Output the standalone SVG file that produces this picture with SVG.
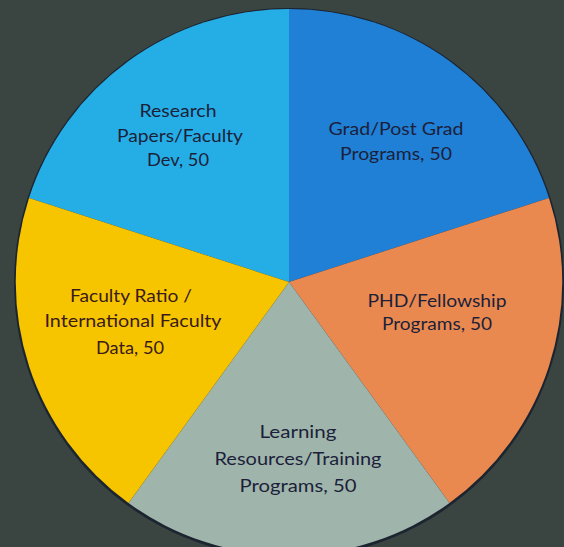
<svg xmlns="http://www.w3.org/2000/svg" width="564" height="547" viewBox="0 0 564 547">
<style>
.lbl{font-family:Lato,"Liberation Sans",sans-serif;font-size:17px;text-anchor:middle;fill:#1c1f3a}
.slice{stroke:none}
</style>
<rect width="564" height="547" fill="#3a4541"/>
<circle cx="289" cy="283" r="275" fill="#1c2430"/>
<g id="research">
<path class="slice" d="M289,282 L29,198 A273,273 0 0 1 289,9 Z" fill="#25aee6"/>
<text class="lbl" x="178" y="117" textLength="77" lengthAdjust="spacingAndGlyphs">Research</text>
<text class="lbl" x="180" y="142" textLength="126" lengthAdjust="spacingAndGlyphs">Papers/Faculty</text>
<text class="lbl" x="178" y="166" textLength="62" lengthAdjust="spacingAndGlyphs">Dev, 50</text>
</g>
<g id="grad">
<path class="slice" d="M289,282 L289,9 A273,273 0 0 1 549,198 Z" fill="#1f80d6"/>
<text class="lbl" x="396" y="135" textLength="135" lengthAdjust="spacingAndGlyphs">Grad/Post Grad</text>
<text class="lbl" x="396" y="160" textLength="112" lengthAdjust="spacingAndGlyphs">Programs, 50</text>
</g>
<g id="phd">
<path class="slice" d="M289,282 L549,198 A273,273 0 0 1 449.5,503 Z" fill="#e9894f"/>
<text class="lbl" x="437" y="307" textLength="139" lengthAdjust="spacingAndGlyphs">PHD/Fellowship</text>
<text class="lbl" x="437" y="330" textLength="110" lengthAdjust="spacingAndGlyphs">Programs, 50</text>
</g>
<g id="learning">
<path class="slice" d="M289,282 L449.5,503 A273,273 0 0 1 128.5,503 Z" fill="#9fb4aa"/>
<text class="lbl" x="298" y="438" textLength="77" lengthAdjust="spacingAndGlyphs">Learning</text>
<text class="lbl" x="298" y="465" textLength="167" lengthAdjust="spacingAndGlyphs">Resources/Training</text>
<text class="lbl" x="298" y="492" textLength="117" lengthAdjust="spacingAndGlyphs">Programs, 50</text>
</g>
<g id="faculty">
<path class="slice" d="M289,282 L128.5,503 A273,273 0 0 1 29,198 Z" fill="#f6c500"/>
<text class="lbl" x="131" y="302" textLength="122" lengthAdjust="spacingAndGlyphs" style="fill:#3a1a1a">Faculty Ratio /</text>
<text class="lbl" x="133" y="327" textLength="177" lengthAdjust="spacingAndGlyphs" style="fill:#3a1a1a">International Faculty</text>
<text class="lbl" x="130" y="354" textLength="68" lengthAdjust="spacingAndGlyphs" style="fill:#3a1a1a">Data, 50</text>
</g>
<g id="connectors"></g>
</svg>
